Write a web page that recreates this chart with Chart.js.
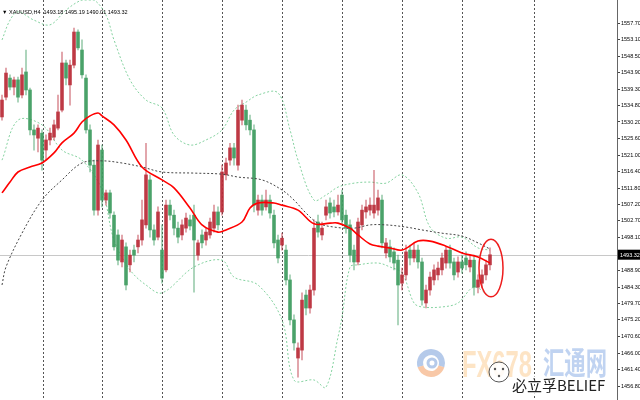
<!DOCTYPE html>
<html><head><meta charset="utf-8">
<script src="https://cdn.jsdelivr.net/npm/chart.js@4"></script>
<style>html,body{margin:0;padding:0;background:#fff;overflow:hidden}</style>
</head><body><canvas id="c" width="640" height="400"></canvas>
<script>
const headerText = "XAUUSD,H4  1493.18 1495.19 1490.01 1493.32";
const currentPrice = 1493.32;
const yTicks = [1557.70,1553.10,1548.50,1543.90,1539.30,1534.80,1530.20,1525.60,1521.00,1516.40,1511.80,1507.20,1502.70,1498.10,1488.90,1484.30,1479.70,1475.20,1470.60,1466.00,1461.40,1456.80];
const separators = [10.25,25,40,55,70,85,100,115,133];

const opens = [1531.6,1537.1,1542.4,1539.9,1541.9,1537.7,1544.1,1539.1,1528.0,1525.7,
1527.1,1522.4,1525.2,1526.0,1528.5,1533.5,1546.6,1540.5,1546.0,1555.2,
1550.2,1542.4,1528.0,1518.2,1505.7,1522.4,1508.5,1510.5,1504.3,1498.8,
1491.3,1495.5,1490.5,1494.6,1495.5,1497.4,1501.6,1514.1,1500.2,1498.2,
1494.6,1489.1,1507.1,1504.3,1500.7,1498.8,1500.7,1503.0,1504.3,1493.2,
1498.8,1497.4,1498.8,1500.7,1505.2,1505.2,1515.5,1519.6,1523.0,1518.2,
1530.7,1533.5,1530.7,1528.0,1505.7,1508.5,1506.6,1508.5,1504.3,1497.4,
1496.0,1494.6,1486.3,1475.2,1464.6,1466.8,1482.1,1478.5,1483.5,1502.4,
1498.8,1504.3,1507.7,1506.6,1505.2,1509.9,1504.3,1501.6,1494.6,1491.3,
1501.6,1505.2,1505.7,1504.9,1505.7,1508.5,1493.8,1495.5,1494.1,1491.8,
1485.4,1487.7,1494.6,1492.4,1494.6,1491.3,1479.9,1483.5,1486.3,1487.7,
1489.1,1491.0,1494.6,1491.3,1488.5,1491.3,1492.4,1489.9,1491.8,1484.3,
1485.4,1487.7,1490.5];
const highs = [1537.7,1545.2,1543.3,1542.7,1542.7,1545.2,1550.2,1539.6,1529.4,1529.4,
1528.0,1526.6,1528.5,1530.7,1537.7,1549.6,1547.4,1547.4,1556.3,1555.8,
1553.0,1543.3,1529.4,1519.6,1525.2,1523.8,1511.3,1511.3,1505.2,1500.2,
1498.8,1496.6,1494.6,1496.0,1498.8,1508.5,1524.3,1515.5,1501.6,1506.6,
1501.6,1508.5,1508.5,1505.7,1502.4,1503.0,1504.9,1504.3,1507.1,1497.4,
1500.2,1500.7,1503.5,1507.1,1506.6,1518.2,1520.2,1524.3,1524.3,1534.9,
1536.3,1534.9,1532.1,1529.4,1509.9,1509.9,1511.3,1509.9,1505.7,1498.8,
1499.3,1496.0,1487.7,1476.6,1468.8,1482.7,1483.5,1484.9,1503.0,1504.3,
1502.4,1508.5,1509.1,1508.5,1509.9,1511.3,1505.7,1503.0,1496.0,1503.5,
1507.1,1508.5,1509.1,1516.8,1511.3,1509.9,1497.9,1497.4,1495.2,1493.2,
1489.6,1496.0,1496.0,1496.6,1496.0,1492.4,1484.9,1488.5,1490.5,1491.3,
1493.8,1495.5,1496.0,1492.4,1492.7,1493.2,1494.1,1493.2,1493.2,1487.7,
1489.1,1491.8,1495.2];
const lows = [1530.7,1536.3,1539.1,1537.7,1535.7,1536.9,1537.7,1526.6,1522.4,1521.9,
1516.8,1519.6,1523.8,1525.2,1528.0,1533.0,1540.5,1534.9,1545.2,1550.2,
1542.4,1527.1,1516.3,1504.3,1504.3,1506.6,1507.1,1503.5,1494.6,1490.5,
1489.9,1483.5,1488.5,1491.3,1493.8,1496.0,1500.7,1498.2,1496.0,1497.4,
1485.4,1488.5,1503.0,1498.8,1496.6,1497.4,1499.6,1500.2,1482.9,1491.8,
1495.2,1496.0,1497.9,1499.6,1500.2,1504.3,1514.1,1518.2,1518.2,1516.8,
1529.4,1528.0,1526.6,1505.2,1504.3,1504.3,1505.7,1503.5,1495.2,1491.0,
1494.6,1484.9,1473.8,1466.8,1459.3,1464.1,1476.6,1477.1,1482.1,1498.2,
1497.4,1503.0,1503.5,1503.8,1504.3,1501.6,1499.3,1491.3,1489.1,1490.5,
1500.2,1503.5,1504.3,1503.5,1504.3,1495.2,1492.4,1491.3,1489.1,1473.8,
1483.5,1486.3,1490.5,1491.3,1489.6,1479.3,1478.5,1482.1,1484.9,1486.3,
1487.7,1489.6,1489.6,1486.3,1487.1,1488.2,1489.1,1488.5,1482.1,1482.7,
1484.1,1486.3,1489.1];
const closes = [1536.3,1543.8,1539.9,1541.9,1537.1,1543.3,1539.1,1528.0,1526.6,1528.5,
1519.6,1525.2,1527.1,1529.4,1533.0,1546.6,1542.4,1546.0,1555.2,1550.8,
1543.3,1528.0,1518.2,1505.7,1523.8,1508.5,1510.5,1504.9,1495.5,1491.8,
1497.4,1484.9,1493.2,1493.2,1497.4,1503.0,1515.5,1500.2,1497.4,1505.2,
1486.8,1507.1,1504.3,1500.7,1498.2,1501.6,1503.5,1501.3,1497.4,1496.6,
1496.6,1499.6,1502.4,1505.2,1501.6,1516.3,1518.8,1523.0,1520.2,1533.5,
1534.9,1529.4,1528.0,1507.1,1508.5,1505.7,1508.5,1504.9,1496.6,1492.4,
1497.9,1486.3,1475.2,1468.8,1467.4,1480.7,1478.5,1483.5,1500.7,1499.6,
1500.7,1506.6,1504.9,1505.2,1507.1,1503.0,1500.7,1493.2,1491.3,1502.4,
1505.7,1506.6,1507.1,1507.1,1509.1,1496.6,1496.6,1492.7,1491.0,1484.9,
1487.7,1494.1,1492.4,1494.6,1491.3,1480.7,1483.5,1487.1,1489.1,1489.6,
1492.4,1494.6,1491.0,1487.7,1491.3,1489.6,1490.5,1491.8,1484.3,1486.3,
1487.7,1490.5,1493.3];

const maRedIdx = [0,2,4,7,10,13,15,18,20,22,24,25,28,31,35,40,43,47,50,54,56,60,62,64,68,70,74,78,82,84,87,89,92,94,97,100,104,107,111,115,119,122];
const maRed = [1510.5,1513.5,1516.3,1517.7,1518.8,1521.6,1524.4,1527.1,1530.2,1531.9,1532.7,1531.9,1529.4,1525.2,1517.7,1514.1,1511.9,1506.3,1501.6,1499.6,1500.2,1502.4,1506.3,1507.7,1507.7,1507.1,1505.7,1501.9,1502.1,1502.1,1500.7,1498.8,1496.3,1495.7,1495.2,1494.6,1497.1,1497.1,1495.7,1493.8,1492.7,1491.0];

const maSlowIdx = [0,1,5,10,15,20,25,30,35,40,48,55,59,65,70,73,76,79,83,88,92,96,101,105,110,115,119,122];
const maSlow = [1484.9,1489.9,1499.3,1508.5,1514.1,1518.8,1519.4,1518.8,1517.7,1516.3,1516.0,1515.7,1514.9,1514.1,1511.3,1508.5,1504.9,1502.1,1501.0,1500.7,1501.6,1501.6,1501.0,1500.2,1499.3,1498.5,1496.6,1494.9];

const bandUpIdx = [0,2,4,8,12,16,20,23,26,28,32,36,40,43,47,51,55,58,61,64,69,72,74,78,81,84,88,92,96,100,104,107,111,115,119,122];
const bandUp = [1553.0,1558.5,1560.8,1558.5,1557.2,1561.3,1564.1,1564.1,1559.9,1553.0,1541.9,1536.3,1534.1,1526.6,1523.8,1525.2,1528.0,1533.5,1535.7,1537.7,1538.3,1528.0,1519.6,1508.5,1509.9,1512.1,1513.2,1513.5,1513.2,1515.5,1510.5,1501.0,1497.9,1498.2,1495.2,1494.6];
const bandLoIdx = [0,4,10,15,20,25,28,32,36,40,48,55,58,64,70,73,78,81,84,85,87,89,94,97,100,103,105,110,114,118,122];
const bandLo = [1519.6,1530.7,1529.4,1522.4,1519.6,1511.3,1497.4,1489.1,1484.9,1482.7,1489.9,1491.8,1487.1,1484.9,1475.2,1458.5,1458.5,1456.5,1470.4,1476.0,1489.9,1490.5,1491.0,1489.9,1488.2,1479.9,1478.8,1478.8,1479.9,1484.3,1481.6];

const UP = 'rgba(185,42,55,0.88)', DOWN = 'rgba(60,155,95,0.88)';
const UPW = 'rgba(185,42,55,0.5)', DOWNW = 'rgba(60,155,95,0.5)';
const pts = (ix, v) => ix.map((x, k) => ({x, y: v[k]}));
const isUp = i => closes[i] >= opens[i];

const wickData = opens.map((o, i) => ({x: i, y: [lows[i], highs[i]]}));
const bodyData = opens.map((o, i) => ({x: i, y: [Math.min(o, closes[i]), Math.max(o, closes[i])]}));

const lineDs = (data, color, dash, width, order) => ({
  type: 'line', data, borderColor: color, borderWidth: width, borderDash: dash,
  pointRadius: 0, tension: 0.35, fill: false, order
});

function fitText(ctx, txt, x0, base, w, h, font, style) {
  ctx.save();
  ctx.font = font;
  const m = ctx.measureText(txt);
  const th = m.actualBoundingBoxAscent + m.actualBoundingBoxDescent;
  ctx.translate(x0, base);
  ctx.scale(w / m.width, h / th);
  ctx.fillStyle = style;
  ctx.fillText(txt, 0, -m.actualBoundingBoxDescent);
  ctx.restore();
}

const extras = {
  id: 'extras',
  beforeDatasetsDraw(chart) {
    const {ctx, chartArea: a, scales: {x, y}} = chart;
    ctx.save();
    const py = Math.round(y.getPixelForValue(currentPrice)) + 0.5;
    ctx.strokeStyle = '#c8c8c8'; ctx.lineWidth = 1;
    ctx.beginPath(); ctx.moveTo(a.left, py); ctx.lineTo(a.right, py); ctx.stroke();
    ctx.strokeStyle = '#555'; ctx.setLineDash([2, 2]);
    separators.forEach(s => {
      const px = Math.round(x.getPixelForValue(s)) + 0.5;
      ctx.beginPath(); ctx.moveTo(px, a.top); ctx.lineTo(px, a.bottom); ctx.stroke();
    });
    ctx.restore();
  },
  afterDraw(chart) {
    const {ctx, chartArea: a, scales: {x, y}} = chart;
    ctx.save();
    const lx = 431, ly = 363;
    ctx.lineWidth = 6;
    ctx.strokeStyle = 'rgba(150,180,225,0.7)';
    ctx.beginPath(); ctx.arc(lx, ly, 11, Math.PI * 0.9, Math.PI * 2.1); ctx.stroke();
    ctx.strokeStyle = 'rgba(245,170,120,0.65)';
    ctx.beginPath(); ctx.arc(lx, ly, 11, Math.PI * 0.1, Math.PI * 0.9); ctx.stroke();
    ctx.lineWidth = 3; ctx.strokeStyle = 'rgba(150,180,225,0.7)';
    ctx.beginPath(); ctx.arc(lx + 1, ly, 4, 0, Math.PI * 2); ctx.stroke();
    fitText(ctx, 'FX678', 462, 377, 70, 27, 'bold 36px "Liberation Sans"', 'rgba(252,205,150,0.55)');
    fitText(ctx, '汇通网', 543, 378, 64, 30, 'bold 30px "Noto Sans CJK SC"', 'rgba(140,175,230,0.55)');
    ctx.lineWidth = 1; ctx.strokeStyle = '#555'; ctx.fillStyle = 'rgba(255,255,255,0.85)';
    ctx.beginPath(); ctx.arc(499, 372, 10, 0, Math.PI * 2); ctx.fill(); ctx.stroke();
    ctx.fillStyle = '#555';
    [[495, 369], [503, 369], [499, 376]].forEach(([a1, b1]) => { ctx.beginPath(); ctx.arc(a1, b1, 1.2, 0, Math.PI * 2); ctx.fill(); });
    ctx.font = '15px "Noto Sans CJK SC"';
    ctx.lineWidth = 3; ctx.strokeStyle = '#fff'; ctx.lineJoin = 'round';
    ctx.textBaseline = 'alphabetic';
    ctx.strokeText('必立孚BELIEF', 512, 391);
    ctx.fillStyle = '#222';
    ctx.fillText('必立孚BELIEF', 512, 391);
    const cx = x.getPixelForValue(122.25), cy = y.getPixelForValue(1489.6);
    const rx = x.getPixelForValue(122.25 + 3) - cx, ry = y.getPixelForValue(1489.6 - 8) - cy;
    ctx.strokeStyle = '#ee1c1c'; ctx.lineWidth = 1.5;
    ctx.beginPath(); ctx.ellipse(cx, cy, rx, ry, 0, 0, Math.PI * 2); ctx.stroke();
    ctx.font = '5.5px "Liberation Sans"'; ctx.fillStyle = '#000'; ctx.textBaseline = 'middle';
    ctx.fillText('\u25BC ' + headerText, 2, 12);
    const py = y.getPixelForValue(currentPrice);
    ctx.fillStyle = '#000'; ctx.fillRect(a.right + 1, py - 5, 22, 10);
    ctx.fillStyle = '#fff'; ctx.font = '5.5px "Liberation Sans"';
    ctx.fillText(currentPrice.toFixed(2), a.right + 3, py + 0.5);
    ctx.restore();
  }
};

new Chart(document.getElementById('c'), {
  type: 'bar',
  data: {
    datasets: [
      lineDs(pts(bandUpIdx, bandUp), 'rgba(120,205,150,0.9)', [2, 2], 1, 6),
      lineDs(pts(bandLoIdx, bandLo), 'rgba(120,205,150,0.9)', [2, 2], 1, 6),
      {type: 'bar', data: wickData, barThickness: 1, grouped: false, order: 5,
       backgroundColor: c => isUp(c.dataIndex) ? UPW : DOWNW},
      {type: 'bar', data: bodyData, barThickness: 3, grouped: false, order: 4,
       backgroundColor: c => isUp(c.dataIndex) ? UP : DOWN},
      lineDs(pts(maSlowIdx, maSlow), '#444', [2, 2], 1, 2),
      lineDs(pts(maRedIdx, maRed), '#ff0000', [], 1.6, 1)
    ]
  },
  options: {
    responsive: false, animation: false, devicePixelRatio: 1,
    layout: {padding: 0},
    plugins: {legend: {display: false}, tooltip: {enabled: false}},
    scales: {
      x: {type: 'linear', min: -0.5, max: 153.75, offset: false, display: false},
      y: {
        position: 'right', min: 1452.94, max: 1564.1,
        afterBuildTicks: s => { s.ticks = yTicks.map(v => ({value: v})); },
        afterFit: s => { s.width = 23; s.paddingTop = 0; s.paddingBottom = 0; },
        ticks: {autoSkip: false, padding: 1, color: '#000', font: {size: 5.5, family: 'Liberation Sans'},
                callback: v => Number(v).toFixed(2)},
        grid: {drawOnChartArea: false, tickLength: 3, color: '#444'},
        border: {color: '#666'}
      }
    }
  },
  plugins: [extras]
});
</script></body></html>
